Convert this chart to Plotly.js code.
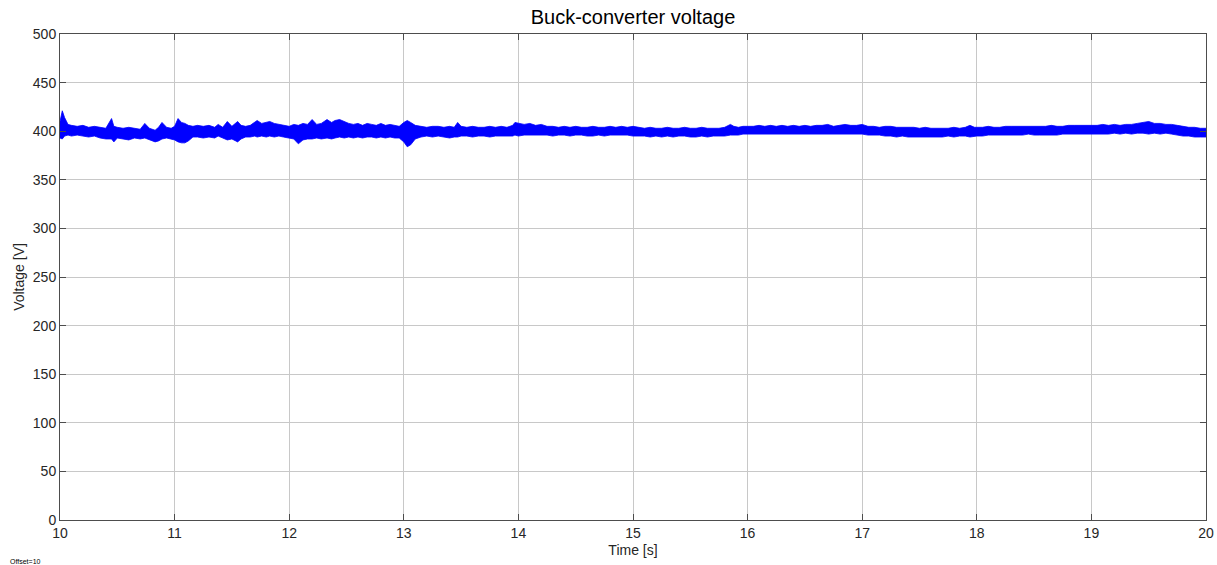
<!DOCTYPE html>
<html>
<head>
<meta charset="utf-8">
<script src="https://cdn.plot.ly/plotly-3.0.1.min.js"></script>
<style>html,body{margin:0;padding:0;background:#fff;}#chart{width:1217px;height:565px;}</style>
</head>
<body>
<div id="chart"></div>
<script>
// Time points [s] where the envelope of the voltage band was read
const timeS = [10.00,10.02,10.04,10.07,10.10,10.15,10.20,10.25,10.30,10.35,10.40,10.45,10.47,10.50,10.55,10.60,10.65,10.70,10.74,10.78,10.83,10.86,10.89,10.93,10.97,
11.00,11.03,11.06,11.09,11.12,11.16,11.20,11.25,11.30,11.35,11.38,11.42,11.46,11.50,11.55,11.58,11.62,11.66,11.70,11.72,11.76,11.80,11.83,11.87,11.91,11.95,
12.00,12.04,12.08,12.12,12.16,12.20,12.24,12.28,12.33,12.37,12.40,12.44,12.48,12.52,12.56,12.60,12.64,12.68,12.72,12.76,12.80,12.84,12.88,12.92,12.96,
13.00,13.03,13.06,13.10,13.15,13.20,13.25,13.30,13.35,13.40,13.44,13.47,13.50,13.55,13.60,13.65,13.70,13.75,13.80,13.85,13.90,13.95,13.97,
14.00,14.05,14.10,14.15,14.20,14.25,14.30,14.35,14.40,14.45,14.50,14.55,14.60,14.65,14.70,14.75,14.80,14.85,14.90,14.95,
15.00,15.05,15.10,15.15,15.20,15.25,15.30,15.35,15.40,15.45,15.50,15.55,15.60,15.65,15.70,15.75,15.80,15.85,15.88,15.92,15.96,
16.00,16.05,16.10,16.15,16.20,16.25,16.30,16.35,16.40,16.45,16.50,16.55,16.60,16.65,16.70,16.75,16.80,16.85,16.90,16.95,
17.00,17.05,17.10,17.15,17.20,17.25,17.30,17.35,17.40,17.45,17.50,17.55,17.60,17.65,17.70,17.75,17.80,17.85,17.90,17.94,17.98,
18.00,18.05,18.10,18.15,18.20,18.25,18.30,18.35,18.40,18.45,18.50,18.55,18.60,18.65,18.70,18.75,18.80,18.85,18.90,18.95,
19.00,19.05,19.10,19.15,19.20,19.25,19.30,19.35,19.40,19.45,19.50,19.55,19.60,19.65,19.70,19.75,19.80,19.85,19.90,19.95,20.00];

// Upper edge of the voltage ripple band [V]
const voltageUpper = [410,421,414,407,406,405,406,404,405,404,403,413,405,404,403,404,403,402,408,403,401,404,409,404,403,
405,413,409,408,406,405,406,405,406,404,407,404,410,405,410,406,405,406,409,411,408,409,410,408,407,406,
405,407,406,408,407,412,407,408,412,409,411,412,410,408,407,408,406,408,407,406,408,406,407,406,405,
409,411,409,406,405,404,405,405,404,405,404,409,405,404,405,404,404,405,404,405,404,406,409,
408,407,408,406,407,405,405,404,405,404,405,404,404,405,404,404,405,404,405,404,
405,404,403,404,403,403,404,403,403,404,403,403,404,403,403,403,404,407,405,404,405,
405,405,406,405,406,405,406,405,406,405,406,405,406,406,407,405,406,407,406,406,
407,405,405,404,405,405,404,404,404,404,403,404,403,403,403,403,404,403,404,406,404,
404,404,405,404,404,405,405,405,405,405,405,405,405,406,405,405,406,406,406,406,
406,406,407,406,407,406,407,407,408,409,410,408,408,407,407,406,405,404,404,403,403];

// Lower edge of the voltage ripple band [V]
const voltageLower = [393,392,395,396,395,396,395,394,395,393,392,392,389,393,392,391,393,392,393,391,389,390,392,393,392,
391,389,388,388,390,394,394,393,394,393,395,393,391,392,389,392,394,394,395,394,395,394,395,394,395,394,
393,392,387,391,392,392,393,392,393,392,393,394,393,394,393,394,393,394,394,393,394,393,394,393,393,
389,384,386,392,394,395,394,395,394,393,394,394,395,395,394,395,395,394,395,395,395,395,396,
395,396,396,396,396,396,395,396,396,395,396,396,395,395,396,395,396,396,396,396,
395,395,395,394,395,394,395,394,395,395,394,394,395,394,395,395,395,396,396,396,397,
397,397,397,397,397,397,397,397,397,397,397,397,397,397,397,397,397,397,397,397,
397,396,396,396,395,395,394,395,394,394,394,394,394,394,394,395,394,395,395,394,395,
395,395,396,396,396,396,396,396,396,397,396,396,396,396,396,397,397,397,397,397,
397,397,397,397,398,397,398,397,398,398,397,398,397,398,397,396,395,395,394,394,394];

const xTicks = [10,11,12,13,14,15,16,17,18,19,20];
const yTicks = [0,50,100,150,200,250,300,350,400,450,500];

const blue = '#0000ff';
const traces = [
  {x: timeS, y: voltageLower, type: 'scatter', mode: 'lines',
   line: {color: blue, width: 0.8}, hoverinfo: 'skip', showlegend: false},
  {x: timeS, y: voltageUpper, type: 'scatter', mode: 'lines', fill: 'tonexty',
   fillcolor: blue, line: {color: blue, width: 0.8}, showlegend: false}
];

const axisCommon = {
  showgrid: true, gridcolor: '#c8c8c8', gridwidth: 1,
  showline: true, linecolor: '#4d4d4d', linewidth: 1, mirror: 'ticks',
  ticks: 'inside', ticklen: 6, tickcolor: '#4d4d4d',
  zeroline: false,
  tickfont: {family: 'Liberation Sans, Arial, sans-serif', size: 14, color: '#262626'}
};

const layout = {
  width: 1217, height: 565,
  margin: {l: 60, r: 11, t: 34, b: 45},
  paper_bgcolor: '#ffffff', plot_bgcolor: '#ffffff',
  title: {text: 'Buck-converter voltage', x: 0.5, xanchor: 'center', y: 0.97, yanchor: 'middle',
          xref: 'paper',
          font: {family: 'Liberation Sans, Arial, sans-serif', size: 20, color: '#000'}},
  xaxis: Object.assign({}, axisCommon, {
    range: [10, 20], tickvals: xTicks, ticktext: xTicks.map(String),
    title: {text: 'Time [s]', standoff: 5,
            font: {family: 'Liberation Sans, Arial, sans-serif', size: 14, color: '#262626'}}
  }),
  yaxis: Object.assign({}, axisCommon, {
    range: [0, 500], tickvals: yTicks, ticktext: yTicks.map(String),
    title: {text: 'Voltage [V]', standoff: 4,
            font: {family: 'Liberation Sans, Arial, sans-serif', size: 14, color: '#262626'}}
  }),
  annotations: [{
    text: 'Offset=10', xref: 'paper', yref: 'paper', x: -0.045, y: -0.075,
    xanchor: 'left', yanchor: 'top', showarrow: false,
    font: {family: 'Liberation Sans, Arial, sans-serif', size: 7, color: '#000'}
  }]
};

Plotly.newPlot('chart', traces, layout, {displayModeBar: false, staticPlot: true});
</script>
</body>
</html>
